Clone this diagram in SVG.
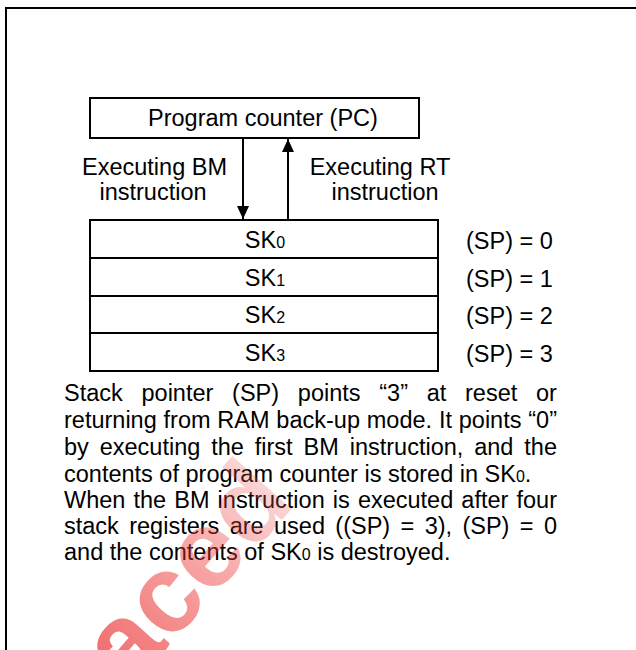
<svg xmlns="http://www.w3.org/2000/svg" width="636" height="650" viewBox="0 0 636 650">
<style>
text{font-family:"Liberation Sans",Arial,sans-serif;font-size:23.5px;fill:#000}
.box{fill:#fff;stroke:#000;stroke-width:2}
.ln{stroke:#000;stroke-width:2;fill:none}
.sub{font-size:16px}
.c{text-anchor:middle}
.wm{font-family:"Liberation Sans",Arial,sans-serif;font-size:110px;font-weight:bold;fill:url(#wg)}
</style>
<defs>
<marker id="ah" markerWidth="12" markerHeight="14" refX="13" refY="7" orient="auto" markerUnits="userSpaceOnUse">
<path d="M0,1 L13,7 L0,13 Z" fill="#000"/>
</marker>
<linearGradient id="wg" x1="0" y1="0" x2="1" y2="0">
<stop offset="0" stop-color="#e81818" stop-opacity="0.9"/>
<stop offset="0.6" stop-color="#ee3030" stop-opacity="0.6"/>
<stop offset="1" stop-color="#f06060" stop-opacity="0.35"/>
</linearGradient>
</defs>
<rect width="636" height="650" fill="#fff"/>
<path class="ln" d="M6,650 V8 H636" stroke-width="2.5"/>
<g id="pc">
<rect class="box" x="90" y="98" width="329" height="40"/>
<text x="148" y="126">Program counter (PC)</text>
</g>
<g id="connectors">
<line class="ln" x1="243" y1="138" x2="243" y2="219" marker-end="url(#ah)"/>
<line class="ln" x1="288" y1="220" x2="288" y2="139" marker-end="url(#ah)"/>
</g>
<g id="lbl-bm">
<text class="c" x="154.5" y="175">Executing BM</text>
<text class="c" x="153" y="200">instruction</text>
</g>
<g id="lbl-rt">
<text class="c" x="380" y="175">Executing RT</text>
<text class="c" x="385" y="200">instruction</text>
</g>
<g id="stack">
<rect class="box" x="90" y="220" width="348" height="151"/>
<line class="ln" x1="90" y1="258" x2="438" y2="258"/>
<line class="ln" x1="90" y1="296" x2="438" y2="296"/>
<line class="ln" x1="90" y1="333" x2="438" y2="333"/>
<text class="c" x="265" y="248">SK<tspan class="sub">0</tspan></text>
<text class="c" x="265" y="286">SK<tspan class="sub">1</tspan></text>
<text class="c" x="265" y="323">SK<tspan class="sub">2</tspan></text>
<text class="c" x="265" y="361">SK<tspan class="sub">3</tspan></text>
</g>
<g id="sp">
<text x="466" y="249">(SP) = 0</text>
<text x="466" y="287">(SP) = 1</text>
<text x="466" y="324">(SP) = 2</text>
<text x="466" y="362">(SP) = 3</text>
</g>
<g id="note">
<text x="64" y="401" word-spacing="12.2">Stack pointer (SP) points “3” at reset or</text>
<text x="64" y="428" word-spacing="0.27">returning from RAM back-up mode. It points “0”</text>
<text x="64" y="455" word-spacing="4.37">by executing the first BM instruction, and the</text>
<text x="64" y="482">contents of program counter is stored in SK<tspan class="sub">0</tspan>.</text>
<text x="64" y="508" word-spacing="1.57">When the BM instruction is executed after four</text>
<text x="64" y="534" word-spacing="3.84">stack registers are used ((SP) = 3), (SP) = 0</text>
<text x="64" y="560">and the contents of SK<tspan class="sub">0</tspan> is destroyed.</text>
</g>
<g id="watermark" opacity="0.7">
<text class="wm" transform="translate(129,690) rotate(-48)">aced</text>
</g>
</svg>
